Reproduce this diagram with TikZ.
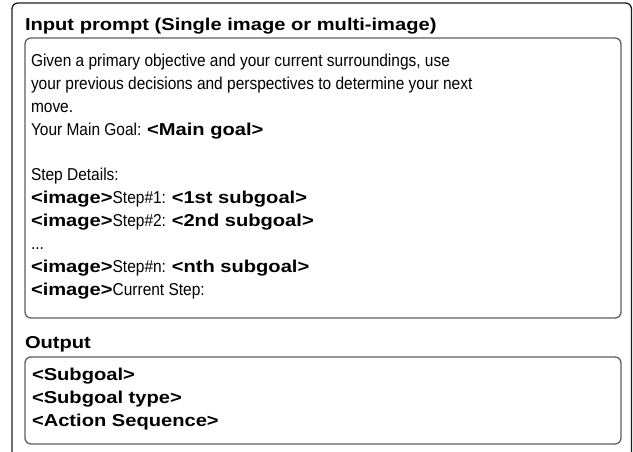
\documentclass[tikz,border=0pt]{standalone}
\usepackage{fontspec}
\setmainfont{Liberation Sans}
% regular and bold faces, widened/narrowed to the set widths
\newfontfamily\regfont[FakeStretch=0.9]{Liberation Sans}
\newfontfamily\bolfont[FakeStretch=1.17]{Liberation Sans}
\newcommand{\rt}[1]{{\regfont #1}}
\newcommand{\bt}[1]{{\bolfont\bfseries #1}}
\definecolor{framegray}{HTML}{5E5E5E}
\definecolor{outerline}{HTML}{1E1E1E}
\begin{document}
\begin{tikzpicture}[x=1pt,y=-1pt,
  outerbox/.style={draw=outerline,line width=1.3pt,rounded corners=6pt},
  innerbox/.style={draw=framegray,line width=1.3pt,rounded corners=6pt},
  txtline/.style={anchor=base west,inner sep=0pt,outer sep=0pt,
    font=\fontsize{17.2}{20}\selectfont},
  headline/.style={txtline}]
\useasboundingbox (0,0) rectangle (633,452);
\clip (0,0) rectangle (633,452);

% frames
\draw[outerbox] (12,3) rectangle (631.5,480);
\draw[innerbox] (25,38) rectangle (621,318);
\draw[innerbox] (25,357) rectangle (621,444);

% prompt section
\node[headline] (intitle) at (25,30.5) {\bt{Input prompt (Single image or multi-image)}};
\node[txtline] (p1) at (31,67) {\rt{Given a primary objective and your current surroundings, use}};
\node[txtline] (p2) at (31,89.8) {\rt{your previous decisions and perspectives to determine your next}};
\node[txtline] (p3) at (31,112.6) {\rt{move.}};
\node[txtline] (p4) at (31,135.4) {\rt{Your Main Goal: }\bt{<Main goal>}};
\node[txtline] (p6) at (31,181) {\rt{Step Details:}};
\node[txtline] (p7) at (31,203.8) {\bt{<image>}\rt{Step\#1: }\bt{<1st subgoal>}};
\node[txtline] (p8) at (31,226.6) {\bt{<image>}\rt{Step\#2: }\bt{<2nd subgoal>}};
\node[txtline] (p9) at (31,249.4) {\rt{...}};
\node[txtline] (p10) at (31,272.2) {\bt{<image>}\rt{Step\#n: }\bt{<nth subgoal>}};
\node[txtline] (p11) at (31,295) {\bt{<image>}\rt{Current Step:}};

% output section
\node[headline] (outtitle) at (25,348) {\bt{Output}};
\node[txtline] (o1) at (32,380) {\bt{<Subgoal>}};
\node[txtline] (o2) at (32,403) {\bt{<Subgoal type>}};
\node[txtline] (o3) at (32,426) {\bt{<Action Sequence>}};
\end{tikzpicture}
\end{document}
